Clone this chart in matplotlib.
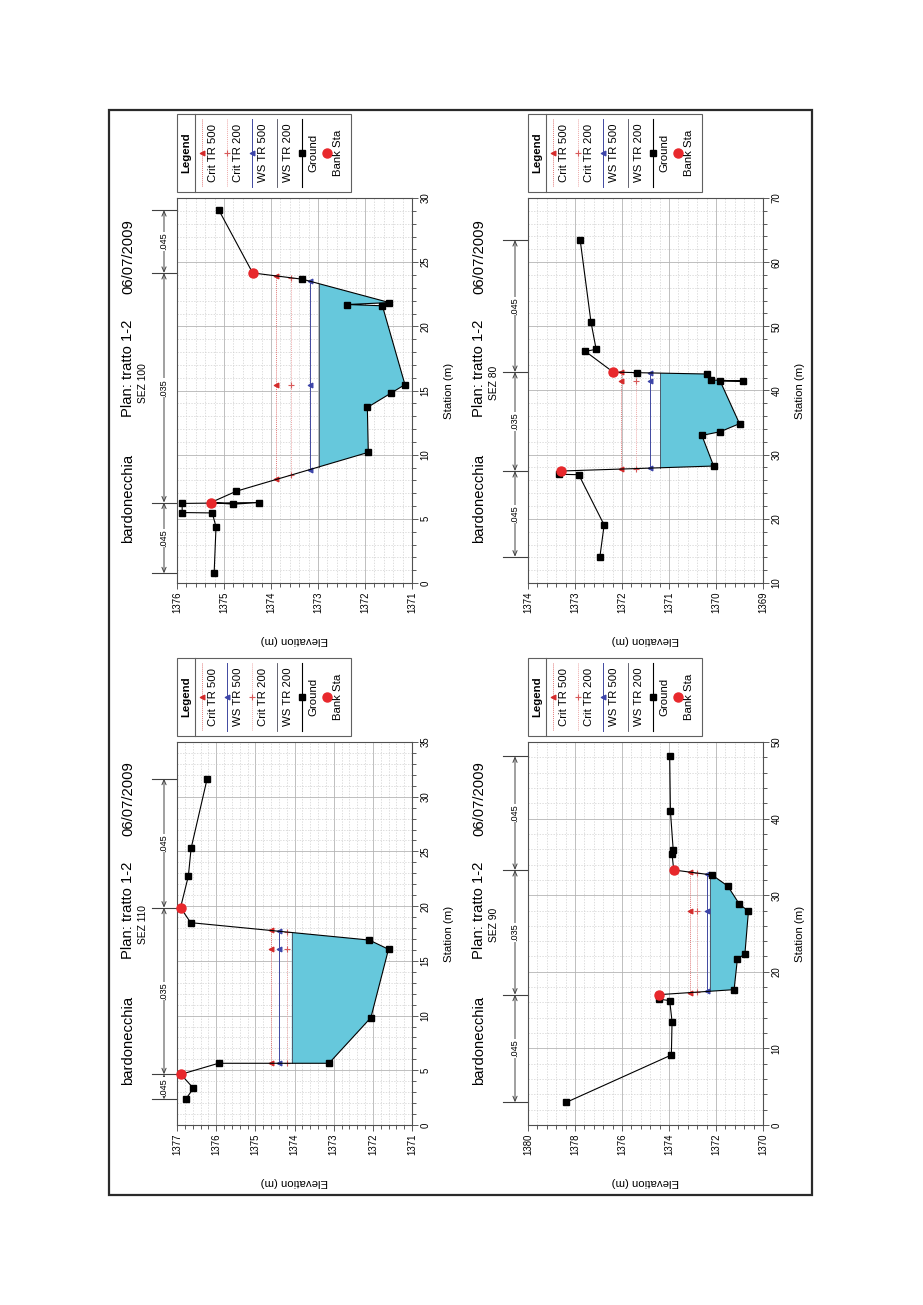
import numpy as np
import matplotlib
matplotlib.use("Agg")
import matplotlib.pyplot as plt
from matplotlib import font_manager
from matplotlib.lines import Line2D
from matplotlib.patches import Rectangle
from matplotlib.ticker import MultipleLocator, FormatStrFormatter
from matplotlib.transforms import Affine2D, blended_transform_factory

# profiles shown in every section (water surface / critical depth)
profiles = ["Crit TR 500", "Crit TR 200", "WS TR 500", "WS TR 200"]
manning_n = [".045", ".035", ".045"]

# SEZ 100 (station m, elevation m)
sez100_sta = [0.75, 4.38, 5.46, 5.49, 6.20, 6.27, 6.14, 6.27, 7.15, 10.18, 13.68,
              14.79, 15.46, 21.60, 21.70, 21.85, 23.67, 24.16, 29.06]
sez100_elev = [1375.21, 1375.17, 1375.25, 1375.89, 1375.89, 1374.26, 1374.80, 1375.28,
               1374.74, 1371.93, 1371.95, 1371.45, 1371.15, 1371.63, 1372.38, 1371.48,
               1373.33, 1374.39, 1375.11]
sez100_bank_sta = [6.27, 24.16]
sez100_bank_elev = [1375.28, 1374.39]
sez100_wsel = [1373.89, 1373.57, 1373.18, 1372.98]
sez100_breaks = [0.75, 6.27, 24.16, 29.06]

# SEZ 80
sez80_sta = [14.10, 19.04, 26.88, 26.94, 27.45, 28.23, 33.00, 33.58, 34.83, 41.45,
             41.48, 41.63, 42.57, 42.78, 42.88, 46.10, 46.42, 50.67, 63.45]
sez80_elev = [1372.47, 1372.38, 1372.92, 1373.33, 1373.30, 1370.05, 1370.30, 1369.91,
              1369.50, 1369.91, 1369.43, 1370.11, 1370.20, 1371.69, 1372.19, 1372.78,
              1372.55, 1372.66, 1372.89]
sez80_bank_sta = [27.45, 42.88]
sez80_bank_elev = [1373.30, 1372.19]
sez80_wsel = [1372.02, 1371.70, 1371.40, 1371.19]
sez80_breaks = [14.10, 27.45, 42.88, 63.45]

# SEZ 110
sez110_sta = [2.35, 3.35, 4.63, 5.64, 5.64, 9.81, 16.06, 16.90, 18.49, 19.86, 22.75,
              25.28, 31.65]
sez110_elev = [1376.78, 1376.58, 1376.90, 1375.94, 1373.12, 1372.05, 1371.60, 1372.09,
               1376.65, 1376.91, 1376.71, 1376.64, 1376.23]
sez110_bank_sta = [4.63, 19.86]
sez110_bank_elev = [1376.90, 1376.91]
sez110_wsel = [1374.60, 1374.20, 1374.40, 1374.07]
sez110_breaks = [2.35, 4.63, 19.86, 31.65]

# SEZ 90
sez90_sta = [2.96, 9.14, 13.50, 16.24, 16.42, 17.02, 17.67, 21.67, 22.32, 27.91, 28.85,
             31.20, 32.64, 33.29, 35.38, 35.86, 40.99, 48.13]
sez90_elev = [1378.37, 1373.90, 1373.87, 1373.97, 1374.41, 1374.41, 1371.23, 1371.09,
              1370.77, 1370.62, 1371.01, 1371.50, 1372.17, 1373.80, 1373.87, 1373.82,
              1373.94, 1373.97]
sez90_bank_sta = [17.02, 33.29]
sez90_bank_elev = [1374.41, 1373.80]
sez90_wsel = [1373.11, 1372.80, 1372.40, 1372.26]
sez90_breaks = [2.96, 17.02, 33.29, 48.13]

styles = {
    "Crit TR 500": dict(color="#e07a7a", ls=(0, (1, 1)), lw=0.7, marker="<", mc="#d42a2a", ms=3.5),
    "Crit TR 200": dict(color="#eeaaaa", ls=(0, (1, 1)), lw=0.7, marker="+", mc="#d85a5a", ms=4),
    "WS TR 500": dict(color="#4048a0", ls="-", lw=0.7, marker="<", mc="#3c44a8", ms=3.5),
    "WS TR 200": dict(color="#4a4a5a", ls="-", lw=0.6, marker=None, mc=None, ms=0),
}
fill_color = "#66c8dc"
bank_color = "#e8282c"

names = {f.name for f in font_manager.fontManager.ttflist}
if "Liberation Sans Narrow" in names:
    family, k = "Liberation Sans Narrow", 1.0
else:
    family, k = "Liberation Sans", 0.82
plt.rcParams["font.family"] = [family, "DejaVu Sans"]

W, H = 923, 1305
fig = plt.figure(figsize=(W / 100, H / 100), dpi=100)
tp = Affine2D().scale(1.0 / W, -1.0 / H).translate(0, 1) + fig.transFigure

fig.add_artist(Rectangle((109, 110), 703, 1085, transform=tp, fill=False,
                         ec="#2a2a2a", lw=1.6))


def wet_extent(sta, elev, level):
    i0 = int(np.argmin(elev))
    i = i0
    while i > 0 and elev[i - 1] < level:
        i -= 1
    a, b = i - 1, i
    sl = sta[b] + (sta[a] - sta[b]) * (level - elev[b]) / (elev[a] - elev[b])
    j = i0
    while j < len(elev) - 1 and elev[j + 1] < level:
        j += 1
    a, b = j, j + 1
    sr = sta[a] + (sta[b] - sta[a]) * (level - elev[a]) / (elev[b] - elev[a])
    return sl, sr, i, j, sta[i0]


def panel(box, title, sta, elev, bank_sta, bank_elev, wsel, breaks,
          xlim, xstep, ylim, ystep):
    L, R, T, B = box
    ax = fig.add_axes([L / W, 1 - B / H, (R - L) / W, (B - T) / H])
    ax.set_xlim(*xlim)
    ax.set_ylim(*ylim)
    ax.xaxis.set_major_locator(MultipleLocator(xstep[0]))
    ax.xaxis.set_minor_locator(MultipleLocator(xstep[1]))
    ax.yaxis.set_major_locator(MultipleLocator(ystep[0]))
    ax.yaxis.set_minor_locator(MultipleLocator(ystep[1]))
    ax.xaxis.set_major_formatter(FormatStrFormatter("%d"))
    ax.yaxis.set_major_formatter(FormatStrFormatter("%d"))
    ax.grid(True, which="major", color="#b4b4b4", lw=0.6)
    ax.grid(True, which="minor", color="#d0d0d0", lw=0.5, ls=(0, (2, 2)))
    ax.set_axisbelow(True)
    ax.yaxis.tick_right()
    ax.tick_params(which="both", direction="out", color="#404040", width=0.6,
                   labelsize=8.5 * k, pad=2)
    ax.tick_params(which="major", length=4)
    ax.tick_params(which="minor", length=3)
    ax.tick_params(axis="x", labelrotation=90)
    ax.tick_params(axis="y", labelrotation=90)
    plt.setp(ax.get_yticklabels(), va="center")
    for sp in ax.spines.values():
        sp.set_color("#505050")
        sp.set_linewidth(0.8)

    sta = np.asarray(sta)
    elev = np.asarray(elev)
    for name, lvl in zip(profiles, wsel):
        st = styles[name]
        sl, sr, i, j, sth = wet_extent(sta, elev, lvl)
        if name == "WS TR 200":
            xs = [lvl] + list(elev[i:j + 1]) + [lvl]
            ys = [sl] + list(sta[i:j + 1]) + [sr]
            ax.fill(xs, ys, color=fill_color, lw=0, zorder=2)
        ax.plot([lvl, lvl], [sl, sr], color=st["color"], ls=st["ls"], lw=st["lw"], zorder=3)
        if st["marker"]:
            ax.plot([lvl] * 3, [sl, sth, sr], ls="none", marker=st["marker"],
                    color=st["mc"], ms=st["ms"], mew=0.8, zorder=4)

    ax.plot(elev, sta, color="black", lw=0.8, marker="s", ms=3.7, zorder=5, clip_on=False)
    ax.plot(bank_elev, bank_sta, ls="none", marker="o", color=bank_color, ms=6.5,
            zorder=6, clip_on=False)

    # manning n dimension lines
    tr = blended_transform_factory(tp, ax.transData)
    for s in breaks:
        ax.plot([L - 25, L], [s, s], transform=tr, clip_on=False, color="#404040", lw=0.8)
    for a, b, n in zip(breaks[:-1], breaks[1:], manning_n):
        ax.annotate("", xy=(L - 13, b), xytext=(L - 13, a), xycoords=tr, textcoords=tr,
                    arrowprops=dict(arrowstyle="<->,head_length=0.35,head_width=0.15",
                                    color="#404040", lw=0.7, shrinkA=0, shrinkB=0),
                    annotation_clip=False)
        ax.text(L - 13, (a + b) / 2, n, transform=tr, rotation=90, ha="center",
                va="center", size=8 * k, zorder=7, clip_on=False,
                bbox=dict(fc="white", ec="none", pad=0.3))

    # titles and axis labels
    tkw = dict(transform=tp, rotation=90, ha="center", va="center")
    fig.text(L - 49, B - 85, "bardonecchia", size=13 * k, **tkw)
    fig.text(L - 49, B - 215, "Plan: tratto 1-2", size=13 * k, **tkw)
    fig.text(L - 49, B - 326, "06/07/2009", size=13 * k, **tkw)
    fig.text(L - 34, B - 200, title, size=9 * k, **tkw)
    fig.text(R + 37, (T + B) / 2, "Station (m)", size=10 * k, **tkw)
    fig.text((L + R) / 2, B + 57, "Elevation (m)", size=10 * k, transform=tp,
             rotation=180, ha="center", va="center")

    # legend
    y0, y1 = T - 84, T - 6
    yc = (y0 + y1) / 2
    fig.add_artist(Rectangle((L, y0), 174, y1 - y0, transform=tp, fill=False,
                             ec="#606060", lw=0.8))
    fig.add_artist(Line2D([L + 18, L + 18], [y0, y1], transform=tp, color="#606060", lw=0.8))
    fig.text(L + 9, yc, "Legend", size=10 * k, weight="bold", **tkw)
    order = [profiles[q] for q in np.argsort(wsel)[::-1]]
    for q, name in enumerate(order + ["Ground", "Bank Sta"]):
        xl = L + 25 + 25 * q
        if name in styles:
            st = styles[name]
            fig.add_artist(Line2D([xl, xl], [y0 + 5, y1 - 5], transform=tp,
                                  color=st["color"], ls=st["ls"], lw=st["lw"]))
            if st["marker"]:
                fig.add_artist(Line2D([xl], [yc], transform=tp, ls="none",
                                      marker=st["marker"], color=st["mc"], ms=st["ms"], mew=0.8))
        elif name == "Ground":
            fig.add_artist(Line2D([xl, xl], [y0 + 5, y1 - 5], transform=tp,
                                  color="black", lw=0.8))
            fig.add_artist(Line2D([xl], [yc], transform=tp, ls="none", marker="s",
                                  color="black", ms=3.7))
        else:
            fig.add_artist(Line2D([xl], [yc], transform=tp, ls="none", marker="o",
                                  color=bank_color, ms=6.5))
        fig.text(xl + 11, yc, name, size=10 * k, **tkw)
    return ax


panel((177, 412, 198, 583), "SEZ 100", sez100_sta, sez100_elev, sez100_bank_sta,
      sez100_bank_elev, sez100_wsel, sez100_breaks, (1376, 1371), (1, 0.2), (0, 30), (5, 1))
panel((528, 763, 198, 583), "SEZ 80", sez80_sta, sez80_elev, sez80_bank_sta,
      sez80_bank_elev, sez80_wsel, sez80_breaks, (1374, 1369), (1, 0.2), (10, 70), (10, 2))
panel((177, 412, 742, 1125), "SEZ 110", sez110_sta, sez110_elev, sez110_bank_sta,
      sez110_bank_elev, sez110_wsel, sez110_breaks, (1377, 1371), (1, 0.2), (0, 35), (5, 1))
panel((528, 763, 742, 1125), "SEZ 90", sez90_sta, sez90_elev, sez90_bank_sta,
      sez90_bank_elev, sez90_wsel, sez90_breaks, (1380, 1370), (2, 0.4), (0, 50), (10, 2))

fig.savefig("out.png", dpi=100)
